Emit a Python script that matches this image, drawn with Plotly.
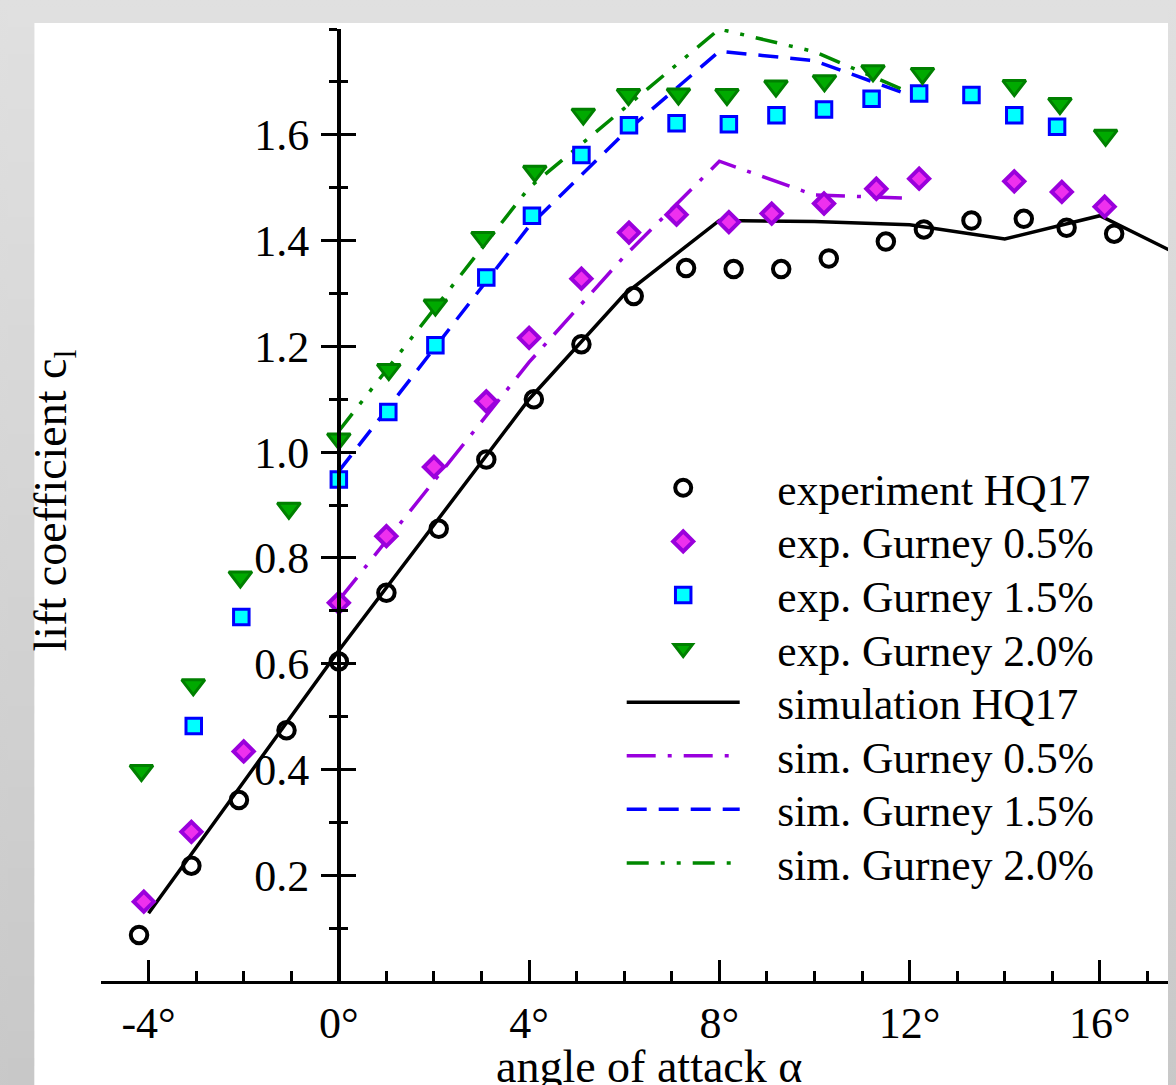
import plotly.graph_objects as go

# ---------------- data ----------------
alpha_exp = [-4.2, -3.1, -2.1, -1.1, 0.0, 1.0, 2.1, 3.1, 4.1, 5.1, 6.2, 7.3, 8.3, 9.3,
             10.3, 11.5, 12.3, 13.3, 14.4, 15.3, 16.3]
cl_exp = [0.087, 0.218, 0.342, 0.474, 0.604, 0.734, 0.855, 0.986, 1.100, 1.204, 1.295,
          1.348, 1.346, 1.346, 1.366, 1.398, 1.421, 1.438, 1.441, 1.424, 1.413]

alpha_g05 = [-4.1, -3.1, -2.0, 0.0, 1.0, 2.0, 3.1, 4.0, 5.1, 6.1, 7.1, 8.2, 9.1, 10.2,
             11.3, 12.2, 14.2, 15.2, 16.1]
cl_g05 = [0.150, 0.282, 0.434, 0.715, 0.841, 0.972, 1.096, 1.216, 1.328, 1.415, 1.449,
          1.435, 1.451, 1.470, 1.498, 1.517, 1.512, 1.492, 1.464]

alpha_g15 = [-3.05, -2.05, 0.0, 1.04, 2.03, 3.1, 4.06, 5.1, 6.1, 7.1, 8.2, 9.2, 10.2,
             11.2, 12.2, 13.3, 14.2, 15.1]
cl_g15 = [0.482, 0.688, 0.948, 1.076, 1.202, 1.330, 1.447, 1.562, 1.618, 1.622, 1.620,
          1.637, 1.648, 1.668, 1.678, 1.675, 1.637, 1.615]

alpha_g20 = [-4.15, -3.06, -2.07, -1.05, 0.0, 1.05, 2.03, 3.03, 4.12, 5.14, 6.09, 7.14,
             8.16, 9.19, 10.21, 11.23, 12.27, 14.2, 15.16, 16.12]
cl_g20 = [0.398, 0.560, 0.764, 0.894, 1.025, 1.156, 1.278, 1.406, 1.531, 1.639, 1.676,
          1.677, 1.676, 1.692, 1.702, 1.721, 1.716, 1.693, 1.659, 1.599]

alpha_sim = [-4, 0, 4, 6, 8, 10, 12, 14, 16, 18]
cl_sim = [0.128, 0.625, 1.100, 1.298, 1.438, 1.436, 1.430, 1.403, 1.447, 1.358]

alpha_sim_g = [0, 4, 6, 8, 10, 12]
cl_sim_g05 = [0.720, 1.170, 1.370, 1.550, 1.486, 1.480]
cl_sim_g15 = [0.964, 1.427, 1.603, 1.758, 1.740, 1.675]
cl_sim_g20 = [1.040, 1.500, 1.650, 1.800, 1.757, 1.680]

x_tickvals = [-4, 0, 4, 8, 12, 16]
x_ticktext = ["-4°", "0°", "4°", "8°", "12°", "16°"]
y_tickvals = [0.2, 0.4, 0.6, 0.8, 1.0, 1.2, 1.4, 1.6]
y_ticktext = ["0.2", "0.4", "0.6", "0.8", "1.0", "1.2", "1.4", "1.6"]
y_minorvals = [0.1, 0.3, 0.5, 0.7, 0.9, 1.1, 1.3, 1.5, 1.7, 1.8]

legend_names = ["experiment HQ17", "exp. Gurney 0.5%", "exp. Gurney 1.5%", "exp. Gurney 2.0%",
                "simulation HQ17", "sim. Gurney 0.5%", "sim. Gurney 1.5%", "sim. Gurney 2.0%"]

# ---------------- layout geometry ----------------
W, H = 1176, 1085
SH = 8                       # page body offset of the figure
ML, MR, MT, MB = 92.6, 8, 21, 112
XR = [-5, 17.6]
YR = [0, 1.8]
PW = W - ML - MR
PH = H - MT - MB
FONT = "Liberation Serif, Times New Roman, serif"
PAD = "\u2002\u00a0"
LEG_FS = 43.5


def px_x(p):             # screen pixel -> paper fraction
    return (p - SH - ML) / PW


def px_y(p):
    return (H - MB - (p - SH)) / PH


fig = go.Figure()

# experimental markers (on the overlaying axis so they sit above the lines)
fig.add_trace(go.Scatter(x=alpha_exp, y=cl_exp, mode="markers", name=PAD + legend_names[0],
                         yaxis="y2", cliponaxis=False, legend="legend",
                         marker=dict(symbol="circle-open", size=16.5, color="black",
                                     line=dict(width=4, color="black"))))
fig.add_trace(go.Scatter(x=alpha_g05, y=cl_g05, mode="markers", name=PAD + legend_names[1],
                         yaxis="y2", cliponaxis=False, legend="legend2",
                         marker=dict(symbol="diamond", size=15.5, color="#ee30ee",
                                     line=dict(width=4, color="#9a00dc"))))
fig.add_trace(go.Scatter(x=alpha_g15, y=cl_g15, mode="markers", name=PAD + legend_names[2],
                         yaxis="y2", cliponaxis=False, legend="legend3",
                         marker=dict(symbol="square", size=15.5, color="#00ffff",
                                     line=dict(width=3, color="#0000ff"))))
fig.add_trace(go.Scatter(x=alpha_g20, y=cl_g20, mode="markers", name=PAD + legend_names[3],
                         yaxis="y2", cliponaxis=False, legend="legend4",
                         marker=dict(symbol="triangle-down", size=20, color="#00aa00",
                                     line=dict(width=3, color="#008000"))))

# simulations
fig.add_trace(go.Scatter(x=alpha_sim, y=cl_sim, mode="lines", name=PAD + legend_names[4],
                         legend="legend5", line=dict(color="black", width=3.5)))
fig.add_trace(go.Scatter(x=alpha_sim_g, y=cl_sim_g05, mode="lines", name=PAD + legend_names[5],
                         legend="legend6",
                         line=dict(color="#9900dd", width=3.5, dash="29px,12px,4px,12px")))
fig.add_trace(go.Scatter(x=alpha_sim_g, y=cl_sim_g15, mode="lines", name=PAD + legend_names[6],
                         legend="legend7",
                         line=dict(color="#0000ff", width=3.5, dash="20px,12px")))
fig.add_trace(go.Scatter(x=alpha_sim_g, y=cl_sim_g20, mode="lines", name=PAD + legend_names[7],
                         legend="legend8",
                         line=dict(color="#008800", width=3.5,
                                   dash="22px,12px,4px,12px,4px,12px")))

# ---------------- background (grey frame with a left gradient strip) ----------------
shapes = []
nb = 40
for i in range(nb):
    y0 = i * H / nb
    y1 = (i + 1) * H / nb
    g = int(round(224 - 24 * (i + 0.5) / nb))
    shapes.append(dict(type="rect", xref="paper", yref="paper", layer="below",
                       x0=px_x(0), x1=px_x(34), y0=px_y(y1 + SH), y1=px_y(y0),
                       line=dict(width=0), fillcolor=f"rgb({g},{g},{g})"))
shapes.append(dict(type="rect", xref="paper", yref="paper", layer="below",
                   x0=px_x(34), x1=px_x(W + SH + 2), y0=px_y(H + SH + 2), y1=px_y(23),
                   line=dict(width=0), fillcolor="white"))

ypos = (0 - XR[0]) / (XR[1] - XR[0])

# one small legend box per row so the row pitch matches the reference
legends = {}
row0, pitch = 486, 53.6
for k in range(8):
    key = "legend" if k == 0 else f"legend{k + 1}"
    legends[key] = dict(x=px_x(621.5), y=px_y(row0 + pitch * k - 33),
                        xanchor="left", yanchor="top",
                        bgcolor="rgba(0,0,0,0)", borderwidth=0, itemwidth=113,
                        itemsizing="trace",
                        font=dict(family=FONT, size=LEG_FS, color="black"))

fig.update_layout(
    width=W, height=H,
    margin=dict(l=ML, r=MR, t=MT, b=MB, pad=0),
    paper_bgcolor="#e0e0e0",
    plot_bgcolor="white",
    font=dict(family=FONT, size=44, color="black"),
    shapes=shapes,
    showlegend=True,
    xaxis=dict(range=XR, showgrid=False, zeroline=False,
               showline=True, linewidth=3, linecolor="black",
               tickmode="array", tickvals=x_tickvals, ticktext=x_ticktext,
               ticks="inside", ticklen=21, tickwidth=2.5, tickcolor="black",
               ticklabelstandoff=1,
               tickfont=dict(family=FONT, size=44),
               minor=dict(dtick=1, tick0=0, ticks="inside", ticklen=10,
                          tickwidth=2.5, tickcolor="black", showgrid=False)),
    yaxis=dict(range=YR, showgrid=False, zeroline=False,
               anchor="free", position=ypos,
               showline=True, linewidth=3.5, linecolor="black",
               tickmode="array", tickvals=y_tickvals, ticktext=y_ticktext,
               ticks="outside", ticklen=16, tickwidth=2.5, tickcolor="black",
               ticklabelstandoff=3,
               tickfont=dict(family=FONT, size=44),
               minor=dict(tickmode="array", tickvals=y_minorvals, ticks="outside",
                          ticklen=8, tickwidth=2.5, tickcolor="black", showgrid=False)),
    yaxis2=dict(range=YR, overlaying="y", anchor="free", position=ypos,
                showgrid=False, zeroline=False, showline=False,
                tickmode="array", tickvals=y_tickvals, showticklabels=False,
                ticks="inside", ticklen=16, tickwidth=2.5, tickcolor="black",
                minor=dict(tickmode="array", tickvals=y_minorvals, ticks="inside",
                           ticklen=8, tickwidth=2.5, tickcolor="black", showgrid=False)),
    annotations=[
        dict(text="angle of attack α", xref="paper", yref="paper",
             x=px_x(649), y=px_y(1066), xanchor="center", yanchor="middle",
             showarrow=False, font=dict(family=FONT, size=46)),
        dict(text="lift coefficient c<sub>l</sub>", xref="paper", yref="paper",
             x=px_x(54), y=px_y(500), xanchor="center", yanchor="middle",
             textangle=-90, showarrow=False, font=dict(family=FONT, size=46)),
    ],
    **legends,
)

fig.write_html(
    "out.html",
    post_script="document.body.style.background='linear-gradient(#e0e0e0,#c8c8c8)';",
)
